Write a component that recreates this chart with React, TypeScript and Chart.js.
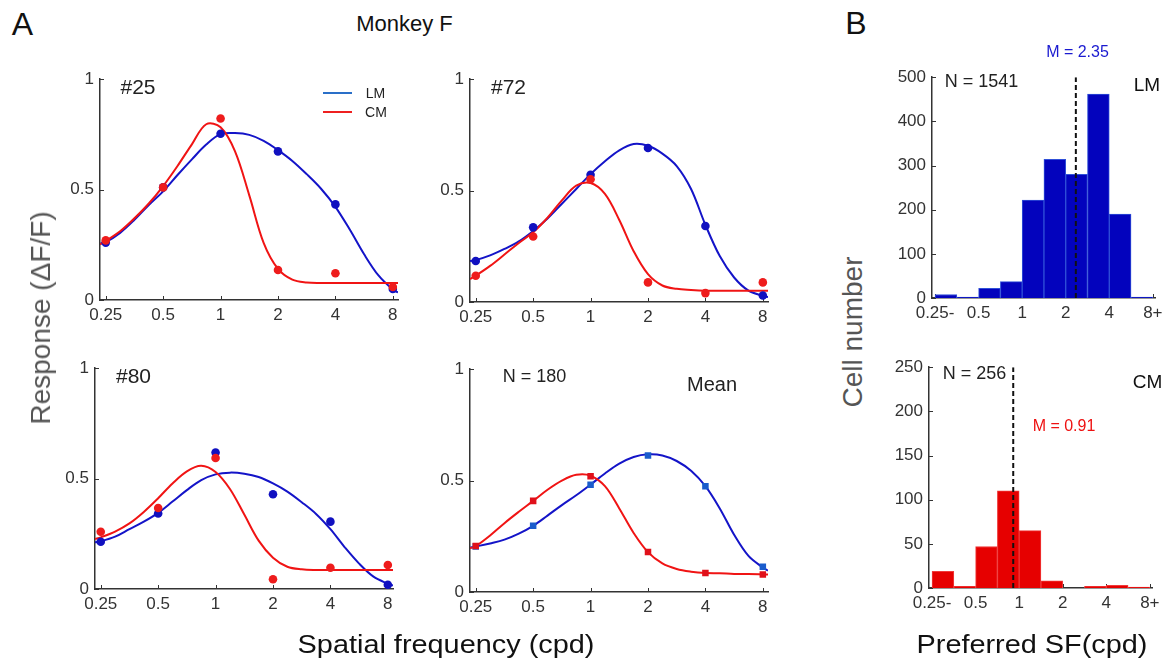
import React, { useEffect, useRef } from "react";
import { Chart, registerables } from "chart.js";
Chart.register(...registerables);

const FONT = "'Liberation Sans', Arial, Helvetica, sans-serif";

// ---------------- data ----------------
const SF_CPD = [0.25, 0.5, 1, 2, 4, 8];
const SF_TICK_LABELS = ["0.25", "0.5", "1", "2", "4", "8"];
const RESP_TICKS = [0, 0.5, 1];
const RESP_TICK_LABELS = ["0", "0.5", "1"];
// sample positions of the fitted curves, log2(cpd)
const FIT_LOG2_SF = [-2.1, -2, -1.75, -1.5, -1.25, -1, -0.75, -0.5, -0.25, 0, 0.25, 0.5, 0.75, 1, 1.25, 1.5, 1.75, 2, 2.25, 2.5, 2.75, 3, 3.09];

const CELL25_LM = [0.26, 0.51, 0.753, 0.673, 0.433, 0.05];
const CELL25_CM = [0.27, 0.51, 0.822, 0.136, 0.121, 0.059];
const CELL25_LM_FIT = [0.255, 0.262, 0.304, 0.363, 0.43, 0.492, 0.566, 0.637, 0.704, 0.751, 0.756, 0.748, 0.721, 0.679, 0.63, 0.57, 0.504, 0.422, 0.319, 0.207, 0.111, 0.047, 0.034];
const CELL25_CM_FIT = [0.252, 0.267, 0.311, 0.37, 0.437, 0.516, 0.607, 0.705, 0.796, 0.782, 0.674, 0.474, 0.259, 0.141, 0.092, 0.079, 0.077, 0.077, 0.077, 0.077, 0.077, 0.077, 0.077];

const CELL72_LM = [0.184, 0.335, 0.571, 0.691, 0.341, 0.029];
const CELL72_CM = [0.118, 0.294, 0.551, 0.088, 0.04, 0.088];
const CELL72_LM_FIT = [0.184, 0.188, 0.209, 0.238, 0.272, 0.319, 0.375, 0.441, 0.507, 0.574, 0.632, 0.681, 0.709, 0.701, 0.666, 0.61, 0.507, 0.346, 0.206, 0.11, 0.051, 0.028, 0.022];
const CELL72_CM_FIT = [0.103, 0.118, 0.162, 0.213, 0.265, 0.313, 0.378, 0.456, 0.522, 0.534, 0.485, 0.368, 0.228, 0.125, 0.074, 0.059, 0.054, 0.051, 0.051, 0.051, 0.051, 0.051, 0.051];

const CELL80_LM = [0.214, 0.342, 0.618, 0.429, 0.305, 0.019];
const CELL80_CM = [0.259, 0.367, 0.593, 0.044, 0.096, 0.109];
const CELL80_LM_FIT = [0.212, 0.216, 0.237, 0.271, 0.305, 0.345, 0.396, 0.448, 0.493, 0.519, 0.527, 0.522, 0.507, 0.478, 0.441, 0.393, 0.34, 0.271, 0.189, 0.115, 0.056, 0.024, 0.016];
const CELL80_CM_FIT = [0.226, 0.234, 0.26, 0.297, 0.349, 0.411, 0.478, 0.533, 0.558, 0.53, 0.453, 0.337, 0.219, 0.142, 0.101, 0.089, 0.086, 0.086, 0.086, 0.086, 0.086, 0.086, 0.086];

const MEAN_LM = [0.204, 0.297, 0.481, 0.613, 0.475, 0.113];
const MEAN_CM = [0.206, 0.409, 0.519, 0.179, 0.085, 0.079];
const MEAN_LM_FIT = [0.199, 0.204, 0.218, 0.235, 0.262, 0.297, 0.343, 0.39, 0.434, 0.482, 0.532, 0.576, 0.606, 0.618, 0.613, 0.588, 0.544, 0.475, 0.375, 0.257, 0.162, 0.11, 0.096];
const MEAN_CM_FIT = [0.196, 0.206, 0.254, 0.309, 0.36, 0.409, 0.459, 0.5, 0.526, 0.522, 0.475, 0.375, 0.265, 0.179, 0.128, 0.103, 0.091, 0.085, 0.084, 0.081, 0.081, 0.079, 0.078];

const HIST_TICK_LOG2 = [-2, -1, 0, 1, 2, 3];
const HIST_TICK_LABELS = ["0.25-", "0.5", "1", "2", "4", "8+"];
const HIST_BIN_CENTERS_LOG2 = [-1.75, -1.25, -0.75, -0.25, 0.25, 0.75, 1.25, 1.75, 2.25, 2.75];
const HIST_LM_COUNTS = [8, 2, 22, 37, 222, 314, 280, 462, 190, 2];
const HIST_CM_COUNTS = [19, 2, 47, 110, 65, 8, 0, 2, 3, 1];
const HIST_LM_TICKS = [0, 100, 200, 300, 400, 500];
const HIST_CM_TICKS = [0, 50, 100, 150, 200, 250];
const PREF_SF_MEAN_LM = 2.35;
const PREF_SF_MEAN_CM = 0.91;

// ---------------- styling ----------------
const BLUE = "#1414c8";
const RED = "#f01414";
const AXIS = "#333333";
const PAD_L = 60, PAD_T = 12, PAD_R = 14, PAD_B = 40;
const X_MIN = -2.1, X_MAX = 3.09;

type Box = { left: number; top: number; right: number; bottom: number };

const inwardTicks = {
  id: "inwardTicks",
  beforeDatasetsDraw(chart: any) {
    const { ctx, chartArea, scales } = chart;
    ctx.save();
    ctx.strokeStyle = AXIS;
    ctx.lineWidth = 1;
    ctx.beginPath();
    for (const t of scales.x.ticks) {
      const px = Math.round(scales.x.getPixelForValue(t.value)) + 0.5;
      ctx.moveTo(px, chartArea.bottom);
      ctx.lineTo(px, chartArea.bottom - 4);
    }
    for (const t of scales.y.ticks) {
      const py = Math.round(scales.y.getPixelForValue(t.value)) + 0.5;
      ctx.moveTo(chartArea.left, py);
      ctx.lineTo(chartArea.left + 4, py);
    }
    ctx.stroke();
    ctx.restore();
  },
};

function axis(pos: "x" | "y", min: number, max: number, vals: number[], labels: string[]) {
  return {
    type: "linear",
    position: pos === "x" ? "bottom" : "left",
    min,
    max,
    offset: false,
    afterBuildTicks: (s: any) => {
      s.ticks = vals.map((v) => ({ value: v }));
    },
    afterFit: (s: any) => {
      if (pos === "x") s.height = PAD_B;
      else s.width = PAD_L;
    },
    grid: { display: false, drawTicks: false },
    border: { display: true, color: AXIS, width: 1.5 },
    ticks: {
      autoSkip: false,
      maxRotation: 0,
      padding: pos === "x" ? 5 : 6,
      color: "#333",
      font: { size: 17, family: FONT },
      callback: (_v: any, i: number) => labels[i],
    },
  };
}

function baseOptions(scales: any) {
  return {
    responsive: false,
    animation: false,
    events: [],
    layout: { padding: { left: 0, top: PAD_T, right: PAD_R, bottom: 0 } },
    plugins: { legend: { display: false }, tooltip: { enabled: false } },
    scales,
  };
}

function responseConfig(lm: number[], cm: number[], lmFit: number[], cmFit: number[], square: boolean) {
  const pts = (v: number[]) => SF_CPD.map((f, i) => ({ x: Math.log2(f), y: v[i] }));
  const fit = (v: number[]) => FIT_LOG2_SF.map((x, i) => ({ x, y: v[i] }));
  const marker = square
    ? { pointStyle: "rect", pointRadius: 4.6 }
    : { pointStyle: "circle", pointRadius: 4.3 };
  return {
    type: "scatter",
    data: {
      datasets: [
        { data: pts(cm), showLine: false, ...marker, backgroundColor: square ? "#e0101a" : "#ee1c1c", borderWidth: 0, order: 0 },
        { data: pts(lm), showLine: false, ...marker, backgroundColor: square ? "#1a5ccc" : "#1010c0", borderWidth: 0, order: 1 },
        { data: fit(cmFit), showLine: true, borderColor: RED, borderWidth: 2, pointRadius: 0, tension: 0.35, order: 2 },
        { data: fit(lmFit), showLine: true, borderColor: BLUE, borderWidth: 2, pointRadius: 0, tension: 0.35, order: 3 },
      ],
    },
    options: baseOptions({
      x: axis("x", X_MIN, X_MAX, SF_CPD.map((f) => Math.log2(f)), SF_TICK_LABELS),
      y: axis("y", 0, 1, RESP_TICKS, RESP_TICK_LABELS),
    }),
    plugins: [inwardTicks],
  };
}

function histConfig(counts: number[], yTicks: number[], mean: number, fill: string, edge: string) {
  const yMax = yTicks[yTicks.length - 1];
  return {
    type: "bar",
    data: {
      datasets: [
        {
          type: "line",
          data: [{ x: Math.log2(mean), y: 0 }, { x: Math.log2(mean), y: yMax }],
          borderColor: "#111",
          borderWidth: 2,
          borderDash: [5, 3],
          pointRadius: 0,
          order: 0,
        },
        {
          type: "bar",
          data: HIST_BIN_CENTERS_LOG2.map((x, i) => ({ x, y: counts[i] })),
          backgroundColor: fill,
          borderColor: edge,
          borderWidth: 1,
          barPercentage: 1,
          categoryPercentage: 1,
          order: 1,
        },
      ],
    },
    options: baseOptions({
      x: axis("x", -2.07, 3.05, HIST_TICK_LOG2, HIST_TICK_LABELS),
      y: axis("y", 0, yMax, yTicks, yTicks.map(String)),
    }),
    plugins: [inwardTicks],
  };
}

function ChartBox({ box, config }: { box: Box; config: any }) {
  const ref = useRef<HTMLCanvasElement>(null);
  useEffect(() => {
    const chart = new Chart(ref.current as HTMLCanvasElement, config);
    return () => chart.destroy();
  }, []);
  const w = box.right - box.left + PAD_L + PAD_R;
  const h = box.bottom - box.top + PAD_T + PAD_B;
  return (
    <canvas
      ref={ref}
      width={w}
      height={h}
      style={{ position: "absolute", left: box.left - PAD_L, top: box.top - PAD_T, width: w, height: h }}
    />
  );
}

function Label(props: { x: number; y: number; size: number; color?: string; rotate?: number; sx?: number; children: React.ReactNode }) {
  const { x, y, size, color = "#111", rotate = 0, sx = 1, children } = props;
  return (
    <div
      style={{
        position: "absolute",
        left: x,
        top: y,
        transform: `translate(-50%, -50%) rotate(${rotate}deg) scaleX(${sx})`,
        fontSize: size,
        lineHeight: 1,
        color,
        whiteSpace: "nowrap",
        fontFamily: FONT,
      }}
    >
      {children}
    </div>
  );
}

function LegendLine({ x, y, w, color }: { x: number; y: number; w: number; color: string }) {
  return <div style={{ position: "absolute", left: x, top: y - 1, width: w, height: 2, background: color }} />;
}

export default function App() {
  return (
    <div style={{ position: "absolute", left: 0, top: 0, width: 1167, height: 667, background: "#fff", overflow: "hidden", fontFamily: FONT }}>
      <ChartBox box={{ left: 100, top: 75, right: 398, bottom: 300 }} config={responseConfig(CELL25_LM, CELL25_CM, CELL25_LM_FIT, CELL25_CM_FIT, false)} />
      <ChartBox box={{ left: 470, top: 75, right: 768, bottom: 302 }} config={responseConfig(CELL72_LM, CELL72_CM, CELL72_LM_FIT, CELL72_CM_FIT, false)} />
      <ChartBox box={{ left: 95, top: 364, right: 393, bottom: 589 }} config={responseConfig(CELL80_LM, CELL80_CM, CELL80_LM_FIT, CELL80_CM_FIT, false)} />
      <ChartBox box={{ left: 470, top: 365, right: 768, bottom: 592 }} config={responseConfig(MEAN_LM, MEAN_CM, MEAN_LM_FIT, MEAN_CM_FIT, true)} />
      <ChartBox box={{ left: 932, top: 73, right: 1155, bottom: 298 }} config={histConfig(HIST_LM_COUNTS, HIST_LM_TICKS, PREF_SF_MEAN_LM, "#0303bd", "#3050d8")} />
      <ChartBox box={{ left: 929, top: 363, right: 1152, bottom: 588 }} config={histConfig(HIST_CM_COUNTS, HIST_CM_TICKS, PREF_SF_MEAN_CM, "#e60000", "#f03a3a")} />

      <Label x={22.5} y={23.5} size={32}>A</Label>
      <Label x={856} y={22.5} size={32}>B</Label>
      <Label x={404.5} y={24} size={22}>Monkey F</Label>
      <Label x={41} y={317.5} size={28} color="#555" rotate={-90}>Response (ΔF/F)</Label>
      <Label x={446} y={644} size={26} sx={1.11}>Spatial frequency (cpd)</Label>
      <Label x={853} y={332} size={28} color="#555" rotate={-90}>Cell number</Label>
      <Label x={1032} y={644} size={26} sx={1.11}>Preferred SF(cpd)</Label>

      <Label x={138} y={85.5} size={21} color="#222">#25</Label>
      <Label x={508.5} y={85.5} size={21} color="#222">#72</Label>
      <Label x={133.5} y={374.5} size={21} color="#222">#80</Label>
      <Label x={534.5} y={375.5} size={18} color="#222">N = 180</Label>
      <Label x={712} y={384} size={20} color="#222">Mean</Label>

      <LegendLine x={323} y={93} w={29} color="#2a6fc8" />
      <LegendLine x={323} y={112} w={29} color="#ee2020" />
      <Label x={375.5} y={93} size={14} color="#222">LM</Label>
      <Label x={376} y={112} size={14} color="#222">CM</Label>

      <Label x={981.5} y={80.5} size={18} color="#222">N = 1541</Label>
      <Label x={1147} y={83.5} size={19} color="#111">LM</Label>
      <Label x={1077.5} y={52} size={16} color="#1a1ad0">M = 2.35</Label>
      <Label x={974.5} y={373} size={18} color="#222">N = 256</Label>
      <Label x={1147.5} y={381} size={19} color="#111">CM</Label>
      <Label x={1064} y={426} size={16} color="#ee1111">M = 0.91</Label>
    </div>
  );
}
